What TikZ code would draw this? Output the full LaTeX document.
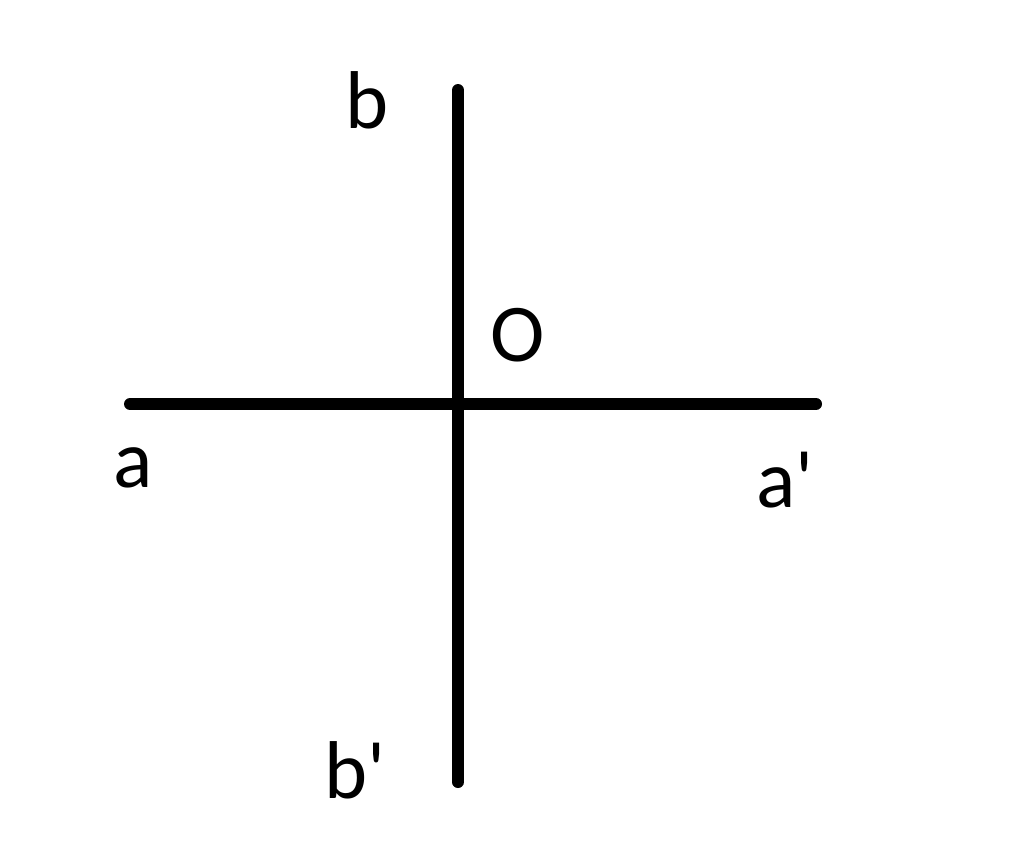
\documentclass[tikz,border=0pt]{standalone}
\usepackage{fontspec}
\setmainfont{Carlito}
\begin{document}
\begin{tikzpicture}[x=1pt,y=-1pt,
  axis/.style={line width=12pt,line cap=round},
  lbl/.style={font=\fontsize{82}{90}\selectfont,inner sep=0pt}]
\useasboundingbox (0,0) rectangle (1024,849);
\coordinate (a0) at (130,404);
\coordinate (a1) at (816,404);
\coordinate (b0) at (458,90);
\coordinate (b1) at (458,782);
\draw[axis] (a0) -- (a1);
\draw[axis] (b0) -- (b1);
\node[lbl] (lb) at (367,100) {b};
\node[lbl] (lO) at (518,335) {O};
\node[lbl] (la) at (133,468) {a};
\node[lbl] (lap) at (785,480) {a\textquotesingle};
\node[lbl] (lbp) at (355,770) {b\textquotesingle};
\end{tikzpicture}
\end{document}
